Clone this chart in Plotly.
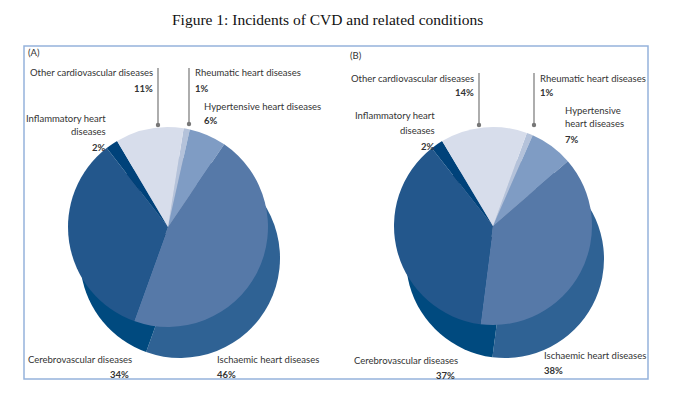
import plotly.graph_objects as go

W, H = 681, 399

categories = ["Rheumatic heart diseases", "Hypertensive heart diseases", "Ischaemic heart diseases",
              "Cerebrovascular diseases", "Inflammatory heart diseases", "Other cardiovascular diseases"]
values_a = [1, 6, 46, 34, 2, 11]
values_b = [1, 7, 38, 37, 2, 14]

top_colors = ["#b4c2da", "#7f9cc4", "#5679a8", "#23578c", "#00427a", "#d7ddeb"]
side_colors = ["#8a9dbc", "#4f6f9c", "#2f6294", "#004a7f", "#003364", "#a9b5cc"]


def px_dom(cx, cy, r):
    return dict(x=[(cx - r) / W, (cx + r) / W], y=[1 - (cy + r) / H, 1 - (cy - r) / H])


def pie(values, colors, dom, rot):
    return go.Pie(labels=categories, values=values, sort=False, direction="clockwise",
                  rotation=rot, marker=dict(colors=colors, line=dict(width=0)),
                  textinfo="none", hoverinfo="label+percent", showlegend=False, domain=dom)


fig = go.Figure()
# side (depth) pies, then top faces
fig.add_trace(pie(values_a, side_colors, px_dom(180, 258, 100), 9))
fig.add_trace(pie(values_a, top_colors, px_dom(168, 227, 100), 9))
fig.add_trace(pie(values_b, side_colors, px_dom(505, 259, 99), 20))
fig.add_trace(pie(values_b, top_colors, px_dom(493, 226, 99), 20))

FONT = "Lato"
annos = []


def txt(x, y, s, anchor, bold=False, size=9.5):
    annos.append(dict(x=x / W, y=1 - y / H, xref="paper", yref="paper", text=("<b>%s</b>" % s) if bold else s,
                      showarrow=False, xanchor=anchor, yanchor="middle",
                      font=dict(family=FONT, size=size, color="#333333")))


# Panel A
txt(26, 53, "(A)", "left")
txt(155, 73, "Other cardiovascular diseases", "right")
txt(155, 89, str(values_a[5]) + "%", "right", True)
txt(193, 73, "Rheumatic heart diseases", "left")
txt(193, 89, str(values_a[0]) + "%", "left", True)
txt(202, 106, "Hypertensive heart diseases", "left")
txt(202, 121, str(values_a[1]) + "%", "left", True)
txt(108, 118, "Inflammatory heart", "right")
txt(108, 131, "diseases", "right")
txt(108, 147, str(values_a[4]) + "%", "right", True)
txt(26, 359, "Cerebrovascular diseases", "left")
txt(131, 374, str(values_a[3]) + "%", "right", True)
txt(215, 359, "Ischaemic heart diseases", "left")
txt(215, 374, str(values_a[2]) + "%", "left", True)

# Panel B
txt(348, 55, "(B)", "left")
txt(476, 78, "Other cardiovascular diseases", "right")
txt(476, 93, str(values_b[5]) + "%", "right", True)
txt(538, 78, "Rheumatic heart diseases", "left")
txt(538, 93, str(values_b[0]) + "%", "left", True)
txt(563, 110, "Hypertensive", "left")
txt(563, 123, "heart diseases", "left")
txt(563, 139, str(values_b[1]) + "%", "left", True)
txt(437, 115, "Inflammatory heart", "right")
txt(437, 130, "diseases", "right")
txt(437, 146, str(values_b[4]) + "%", "right", True)
txt(352, 360, "Cerebrovascular diseases", "left")
txt(457, 375, str(values_b[3]) + "%", "right", True)
txt(542, 355, "Ischaemic heart diseases", "left")
txt(542, 370, str(values_b[2]) + "%", "left", True)

# Title
annos.append(dict(x=327 / W, y=1 - 19 / H, xref="paper", yref="paper",
                  text="Figure 1: Incidents of CVD and related conditions", showarrow=False,
                  xanchor="center", yanchor="middle",
                  font=dict(family="Liberation Serif", size=15.5, color="#111111")))

shapes = []
# frame
shapes.append(dict(type="rect", xref="paper", yref="paper", x0=24 / W, x1=648 / W,
                   y0=1 - 379 / H, y1=1 - 46 / H, line=dict(color="#95b3dc", width=1.5)))


def leader(x, y0, y1):
    shapes.append(dict(type="line", xref="paper", yref="paper", x0=x / W, x1=x / W,
                       y0=1 - y0 / H, y1=1 - y1 / H, line=dict(color="#777777", width=1.2)))
    r = 2.2
    shapes.append(dict(type="circle", xref="paper", yref="paper", x0=(x - r) / W, x1=(x + r) / W,
                       y0=1 - (y1 + r) / H, y1=1 - (y1 - r) / H, fillcolor="#777777",
                       line=dict(width=0)))


leader(158, 68, 125)
leader(189, 68, 124)
leader(479, 73, 125)
leader(534, 73, 125)

fig.update_layout(width=W, height=H, margin=dict(l=0, r=0, t=0, b=0),
                  paper_bgcolor="white", plot_bgcolor="white",
                  annotations=annos, shapes=shapes)
fig.write_html("out.html", config={"displayModeBar": False},
               post_script="document.body.style.margin='0';document.body.style.overflow='hidden';")
